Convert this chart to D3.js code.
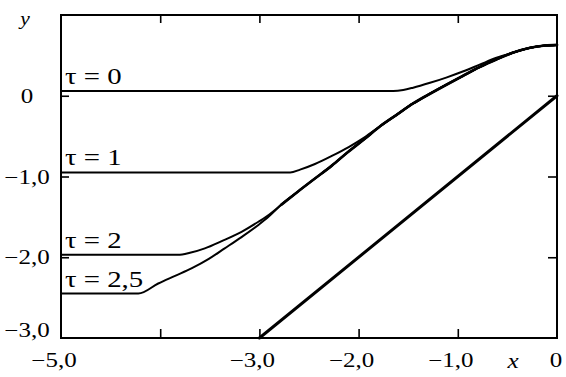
<!DOCTYPE html>
<html><head><meta charset="utf-8">
<script src="https://cdn.jsdelivr.net/npm/d3@7"></script>
<style>html,body{margin:0;padding:0;background:#fff;} svg{display:block;}</style>
</head><body>
<svg id="chart" width="566" height="377"></svg>
<script>
// ---------- data ----------
const xDomain = [-5, 0];
const yDomain = [-3, 1];
const xTickValues = [-4, -3, -2, -1];
const yTickValues = [0, -1, -2];
const xLabelValues = [-5, -3, -2, -1, 0];
const xLabelTexts = ["−5,0", "−3,0", "−2,0", "−1,0", "0"];
const yLabelValues = [0, -1, -2, -3];
const yLabelTexts = ["0", "−1,0", "−2,0", "−3,0"];

const tauNames = ["τ = 0", "τ = 1", "τ = 2", "τ = 2,5"];
const tauLevels = [0.06, -0.95, -1.97, -2.45];

// rising branches (first point = end of the flat part)
const tau0X = [-1.65, -1.55, -1.45, -1.28, -1.11, -0.95, -0.78, -0.61];
const tau0Y = [0.06, 0.072, 0.10, 0.16, 0.228, 0.30, 0.385, 0.47];
const tau1X = [-2.69, -2.59, -2.44, -2.27, -2.10, -1.94];
const tau1Y = [-0.95, -0.915, -0.845, -0.745, -0.635, -0.515];
const tau2X = [-3.82, -3.70, -3.55, -3.38, -3.18, -3.01, -2.90];
const tau2Y = [-1.97, -1.945, -1.89, -1.80, -1.685, -1.56, -1.47];
const tau25X = [-4.22, -4.02, -3.85, -3.68, -3.51, -3.35, -3.18, -3.01, -2.90];
const tau25Y = [-2.45, -2.325, -2.23, -2.135, -2.02, -1.89, -1.75, -1.60, -1.49];

// common envelope all curves merge into
const envelopeX = [-2.78, -2.61, -2.44, -2.27, -2.11, -1.94, -1.78, -1.61, -1.45, -1.28, -1.11, -0.95, -0.78, -0.61, -0.44, -0.27, -0.12, 0];
const envelopeY = [-1.35, -1.185, -1.025, -0.865, -0.70, -0.535, -0.375, -0.23, -0.095, 0.025, 0.14, 0.245, 0.355, 0.45, 0.535, 0.595, 0.622, 0.63];

// straight line
const lineX = [-3, 0];
const lineY = [-3, 0];

// ---------- drawing ----------
const svg = d3.select("#chart");
const pLeft = 61, pRight = 557, pTop = 15, pBottom = 338;
const x = d3.scaleLinear().domain(xDomain).range([pLeft, pRight]);
const y = d3.scaleLinear().domain(yDomain).range([pBottom, pTop]);
const serif = "'Liberation Serif','Times New Roman',serif";

const zip = (xs, ys) => xs.map((v, i) => [v, ys[i]]);
const envelope = zip(envelopeX, envelopeY);
const branches = [zip(tau0X, tau0Y), zip(tau1X, tau1Y), zip(tau2X, tau2Y), zip(tau25X, tau25Y)];

const curveLine = d3.line().x(d => x(d[0])).y(d => y(d[1])).curve(d3.curveMonotoneX);

const g = svg.append("g").attr("fill", "none").attr("stroke", "#000")
  .attr("stroke-linejoin", "round").attr("stroke-linecap", "round");

branches.forEach((br, i) => {
  const lastX = br[br.length - 1][0];
  const pts = [[xDomain[0], tauLevels[i]]].concat(br, envelope.filter(p => p[0] > lastX + 0.05));
  g.append("path").attr("d", curveLine(pts)).attr("stroke-width", 2);
});
g.append("path").attr("d", curveLine(envelope)).attr("stroke-width", 2.7);
g.append("path").attr("d", d3.line().x(d => x(d[0])).y(d => y(d[1]))(zip(lineX, lineY)))
  .attr("stroke-width", 3);

// frame
svg.append("rect").attr("x", pLeft).attr("y", pTop).attr("width", pRight - pLeft).attr("height", pBottom - pTop)
  .attr("fill", "none").attr("stroke", "#000").attr("stroke-width", 2);

// inward ticks via d3 axes
function styleAxis(sel) {
  sel.select(".domain").remove();
  sel.selectAll(".tick line").attr("stroke", "#000").attr("stroke-width", 1.6);
  sel.selectAll(".tick text").remove();
}
svg.append("g").attr("transform", `translate(0,${pBottom})`)
  .call(d3.axisBottom(x).tickValues(xTickValues).tickSize(-9)).call(styleAxis);
svg.append("g").attr("transform", `translate(0,${pTop})`)
  .call(d3.axisTop(x).tickValues(xTickValues).tickSize(-8)).call(styleAxis);
svg.append("g").attr("transform", `translate(${pLeft},0)`)
  .call(d3.axisLeft(y).tickValues(yTickValues).tickSize(-8)).call(styleAxis);
svg.append("g").attr("transform", `translate(${pRight},0)`)
  .call(d3.axisRight(y).tickValues(yTickValues).tickSize(-9)).call(styleAxis);

// text helper with horizontal stretch
function label(tx, ty, str, size, anchor, sx, italic) {
  svg.append("text")
    .attr("transform", `translate(${tx},${ty}) scale(${sx},1)`)
    .attr("font-family", serif).attr("font-size", size)
    .attr("font-style", italic ? "italic" : "normal")
    .attr("text-anchor", anchor).attr("fill", "#000").text(str);
}

// x tick labels
xLabelValues.forEach((v, i) => {
  const t = xLabelTexts[i];
  const dx = t.startsWith("−") ? -7 : -1;
  label(x(v) + dx, 367, t, 20, "middle", 1.25, false);
});
// y tick labels
yLabelValues.forEach((v, i) => {
  const yy = Math.min(y(v) + 7, pBottom - 1);
  label(27, yy, yLabelTexts[i], 20, "middle", 1.25, false);
});
// axis names
label(25, 25, "y", 18, "middle", 1.2, true);
label(513, 368, "x", 21, "middle", 1.2, true);

// tau labels
tauNames.forEach((t, i) => {
  label(x(xDomain[0]) + 4, y(tauLevels[i]) - 7, t, 24, "start", 1.2, false);
});
</script>
</body></html>
